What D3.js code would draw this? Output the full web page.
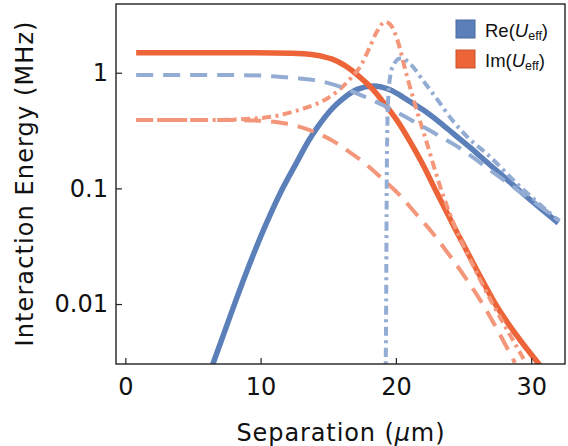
<!DOCTYPE html>
<html>
<head>
<meta charset="utf-8">
<script src="https://cdn.jsdelivr.net/npm/d3@7"></script>
<style>
    body { margin: 0; background: #fff; }
    svg { display: block; }
</style>
</head>
<body>
<svg id="chart" width="568" height="446"></svg>
<script>
const width = 568;
const height = 446;
const margin = { top: 4, right: 3, bottom: 82, left: 116 };

// curves: [separation (um), energy (MHz)]
const reSolid = [[6.46,0.003],[7.65,0.0073],[8.83,0.0173],[10.2,0.0433],[11.43,0.09],[12.67,0.168],[13.58,0.262],[14.18,0.335],[15.36,0.5],[15.96,0.58],[17.14,0.718],[18.33,0.767],[19.56,0.712],[20.8,0.587],[22.03,0.476],[23.26,0.371],[24.24,0.298],[25.48,0.226],[26.71,0.169],[27.94,0.127],[29.17,0.095],[30.65,0.0677],[32.0,0.0502]];
const imSolid = [[0.8,1.49],[8,1.49],[11,1.485],[12.2,1.475],[13.4,1.45],[14.63,1.38],[15.3,1.31],[15.87,1.22],[16.5,1.1],[17.1,0.97],[17.7,0.84],[18.33,0.71],[18.95,0.58],[19.56,0.47],[20.2,0.37],[20.8,0.285],[21.4,0.215],[22.0,0.16],[23.0,0.093],[24.5,0.042],[26.0,0.0195],[27.4,0.0098],[28.9,0.0054],[30.7,0.0029]];
const reDash = [[0.8,0.955],[8,0.955],[10,0.945],[11.5,0.92],[12.9,0.893],[14.63,0.836],[15.87,0.757],[17.1,0.664],[18.33,0.575],[19.56,0.49],[20.8,0.41],[22.03,0.34],[23.26,0.282],[24.5,0.232],[25.7,0.185],[27.0,0.143],[28.3,0.111],[29.6,0.086],[30.8,0.068],[32.1,0.0525]];
const reDashDot = [[19.2,0.001],[19.28,0.01],[19.32,0.1],[19.37,0.35],[19.45,0.65],[19.56,0.9],[19.8,1.15],[20.3,1.33],[20.6,1.31],[21.04,1.2],[22.03,0.85],[23.0,0.6],[24.24,0.38],[25.4,0.27],[26.7,0.2],[29.2,0.103],[32.0,0.053]];
const imDash = [[0.8,0.39],[8,0.39],[10,0.385],[11.5,0.37],[12.9,0.34],[14.2,0.3],[15.4,0.255],[16.6,0.205],[17.84,0.16],[18.8,0.127],[20.3,0.087],[21.5,0.06],[22.8,0.04],[24.0,0.026],[25.2,0.0165],[26.46,0.0098],[27.6,0.0057],[28.8,0.0031]];
const imDashDot = [[0.8,0.39],[6,0.39],[9.2,0.40],[11,0.42],[12.4,0.46],[13.6,0.51],[14.6,0.57],[15.6,0.68],[16.6,0.88],[17.4,1.15],[18.0,1.6],[18.58,2.25],[19.2,2.75],[19.6,2.6],[20.06,2.0],[20.8,0.95],[21.55,0.47],[22.3,0.245],[23.2,0.11],[24.2,0.052],[25.23,0.028],[26.2,0.0165],[27.2,0.0098],[28.4,0.0055],[29.6,0.0031]];

const xTicks = [0, 10, 20, 30];
const yTicks = [1, 0.1, 0.01];
const yTickLabels = ["1", "0.1", "0.01"];
const legendNames = ["Re", "Im"];

const blue = "#5b7fb8";
const blueLight = "#93acd3";
const orange = "#ec6437";
const orangeLight = "#f4967a";

const svg = d3.select("#chart");

const x = d3.scaleLinear()
    .domain([-0.69, 32.5])
    .range([margin.left, width - margin.right]);

const y = d3.scaleLog()
    .domain([3.93, 0.00303])
    .range([margin.top, height - margin.bottom]);

svg.append("clipPath")
    .attr("id", "clip")
    .append("rect")
    .attr("x", margin.left)
    .attr("y", margin.top)
    .attr("width", width - margin.left - margin.right)
    .attr("height", height - margin.top - margin.bottom);

const line = d3.line()
    .x(d => x(d[0]))
    .y(d => y(d[1]))
    .curve(d3.curveMonotoneX);

const plot = svg.append("g").attr("clip-path", "url(#clip)");

function drawCurve(data, color, w, dash) {
    plot.append("path")
        .datum(data)
        .attr("d", line)
        .attr("fill", "none")
        .attr("stroke", color)
        .attr("stroke-width", w)
        .attr("stroke-dasharray", dash);
}

drawCurve(reSolid, blue, 5.5, null);
drawCurve(imSolid, orange, 5.5, null);
drawCurve(imDash, orangeLight, 4, "17,10");
drawCurve(imDashDot, orangeLight, 4, "9,4.5,3,4.5");
drawCurve(reDash, blueLight, 4, "17,10");
drawCurve(reDashDot, blueLight, 4, "9,4.5,3,4.5");

// frame
svg.append("rect")
    .attr("x", margin.left)
    .attr("y", margin.top)
    .attr("width", width - margin.left - margin.right)
    .attr("height", height - margin.top - margin.bottom)
    .attr("fill", "none")
    .attr("stroke", "#222")
    .attr("stroke-width", 1.4);

// axes, ticks pointing inward
const xAxis = d3.axisBottom(x).tickValues(xTicks).tickSizeInner(-6).tickSizeOuter(0).tickPadding(14);
const gx = svg.append("g")
    .attr("transform", `translate(0,${height - margin.bottom})`)
    .call(xAxis);

const yAxis = d3.axisLeft(y).tickValues(yTicks).tickFormat((d, i) => yTickLabels[i]).tickSizeInner(-6).tickSizeOuter(0).tickPadding(8);
const gy = svg.append("g")
    .attr("transform", `translate(${margin.left},0)`)
    .call(yAxis);

[gx, gy].forEach(g => {
    g.select(".domain").remove();
    g.selectAll(".tick line").attr("stroke", "#222").attr("stroke-width", 1.2);
    g.selectAll(".tick text")
        .attr("fill", "#111")
        .style("font-family", "DejaVu Sans")
        .style("font-size", "24px");
});

// axis titles
svg.append("text")
    .attr("x", (margin.left + width - margin.right) / 2)
    .attr("y", 441)
    .attr("text-anchor", "middle")
    .attr("textLength", 208)
    .attr("lengthAdjust", "spacing")
    .style("font-family", "DejaVu Sans")
    .style("font-size", "24px")
    .attr("fill", "#111")
    .html('Separation (<tspan font-style="italic">μ</tspan>m)');

svg.append("text")
    .attr("transform", `translate(33,${(margin.top + height - margin.bottom) / 2}) rotate(-90)`)
    .attr("text-anchor", "middle")
    .attr("textLength", 325)
    .attr("lengthAdjust", "spacing")
    .style("font-family", "DejaVu Sans")
    .style("font-size", "24px")
    .attr("fill", "#111")
    .text("Interaction Energy (MHz)");

// legend
const legend = svg.append("g").attr("transform", "translate(456,20)");
const legendColors = [blue, orange];
const legendBorders = ["#4a6aa0", "#c9532c"];
legendNames.forEach((name, i) => {
    const row = legend.append("g").attr("transform", `translate(0,${i * 30})`);
    row.append("rect")
        .attr("width", 19)
        .attr("height", 18)
        .attr("fill", legendColors[i])
        .attr("stroke", legendBorders[i])
        .attr("stroke-width", 1);
    const t = row.append("text")
        .attr("x", 29)
        .attr("y", 16.5)
        .style("font-family", "Liberation Sans, Arial")
        .style("font-size", "18.5px")
        .attr("fill", "#111");
    t.append("tspan").text(name + "(");
    t.append("tspan").attr("font-style", "italic").text("U");
    t.append("tspan").attr("font-size", "12.5px").attr("dy", 3).text("eff");
    t.append("tspan").attr("dy", -3).text(")");
});
</script>
</body>
</html>
